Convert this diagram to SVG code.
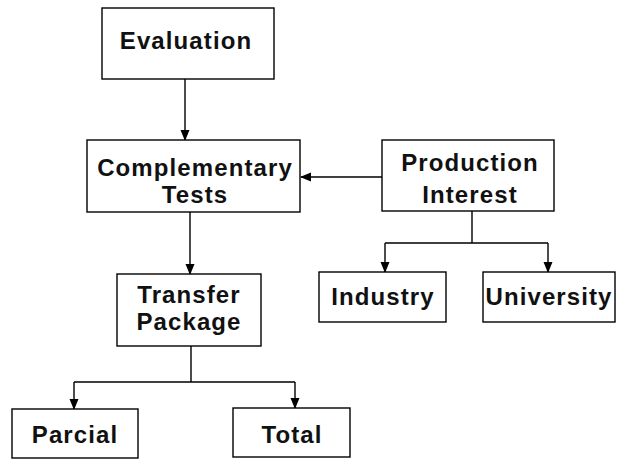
<svg xmlns="http://www.w3.org/2000/svg" width="618" height="459" viewBox="0 0 618 459">
<style>
.box{fill:#fff;stroke:#000;stroke-width:1.4}
.t{font-family:"Liberation Sans",Arial,sans-serif;font-weight:bold;font-size:24px;letter-spacing:1.1px;fill:#111;text-anchor:middle}
.c{fill:none;stroke:#000;stroke-width:1.4}
</style>
<defs>
<marker id="ah" markerWidth="12" markerHeight="10" refX="10" refY="5" orient="auto" markerUnits="userSpaceOnUse">
<path d="M0,0.5 L11,5 L0,9.5 Z" fill="#000"/>
</marker>
</defs>
<rect width="618" height="459" fill="#fff"/>
<g id="connectors">
<path class="c" d="M185,79 V140" marker-end="url(#ah)"/>
<path class="c" d="M387,177 H301" marker-end="url(#ah)"/>
<path class="c" d="M190,212 V274" marker-end="url(#ah)"/>
<path class="c" d="M472,211 V243 M385,243 H548"/>
<path class="c" d="M385,243 V272" marker-end="url(#ah)"/>
<path class="c" d="M548,243 V272" marker-end="url(#ah)"/>
<path class="c" d="M191,346 V382 M74,382 H295"/>
<path class="c" d="M74,382 V409" marker-end="url(#ah)"/>
<path class="c" d="M295,382 V408" marker-end="url(#ah)"/>
</g>
<g id="evaluation">
<rect class="box" x="102" y="8" width="172" height="71"/>
<text class="t" x="186" y="49">Evaluation</text>
</g>
<g id="complementary">
<rect class="box" x="87" y="140" width="213" height="72"/>
<text class="t" x="195" y="176">Complementary</text>
<text class="t" x="195" y="203">Tests</text>
</g>
<g id="production">
<rect class="box" x="382" y="140" width="172" height="71"/>
<text class="t" x="470" y="171">Production</text>
<text class="t" x="470" y="203">Interest</text>
</g>
<g id="industry">
<rect class="box" x="319" y="272" width="127" height="50"/>
<text class="t" x="383" y="305">Industry</text>
</g>
<g id="university">
<rect class="box" x="483" y="272" width="132" height="50"/>
<text class="t" x="549" y="305">University</text>
</g>
<g id="transfer">
<rect class="box" x="117" y="274" width="144" height="72"/>
<text class="t" x="189" y="303">Transfer</text>
<text class="t" x="189" y="330">Package</text>
</g>
<g id="parcial">
<rect class="box" x="12" y="409" width="126" height="49"/>
<text class="t" x="75" y="443">Parcial</text>
</g>
<g id="total">
<rect class="box" x="233" y="408" width="117" height="49"/>
<text class="t" x="292" y="443">Total</text>
</g>
</svg>
